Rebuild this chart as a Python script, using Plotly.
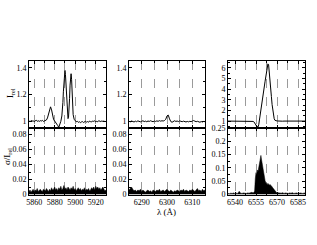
import plotly.graph_objects as go

# ---------------- data ----------------
# Panel 1: Na D region
w1 = [5855, 5856, 5857, 5858, 5859, 5860, 5861, 5862, 5863, 5864,
      5865, 5866, 5867, 5868, 5869, 5870, 5871, 5872, 5873, 5874,
      5875, 5876, 5877, 5878, 5879, 5880, 5881, 5882, 5883, 5884,
      5885, 5886, 5887,
      5887.5, 5888, 5888.5, 5889, 5889.5, 5890, 5890.5, 5891, 5891.5, 5892,
      5892.5, 5893, 5893.5, 5894, 5894.5, 5895, 5895.5, 5896, 5896.5, 5897,
      5897.5, 5898,
      5899, 5900, 5901, 5902, 5903, 5904, 5905, 5906, 5907, 5908,
      5909, 5910, 5911, 5912, 5913, 5914, 5915, 5916, 5917, 5918,
      5919, 5920, 5921, 5922, 5923, 5924, 5925, 5926, 5927, 5928,
      5929, 5930]
irel1 = [1.002, 0.998, 1.006, 1.001, 1.004, 0.997, 1.003, 1.008, 1.000, 1.004,
         0.999, 1.005, 1.002, 1.007, 0.999, 1.003, 1.002, 1.010, 1.025, 1.055,
         1.090, 1.108, 1.085, 1.040, 1.012, 1.002, 0.993, 0.985, 0.968, 0.955,
         0.975, 1.000, 1.040,
         1.080, 1.140, 1.220, 1.300, 1.360, 1.380, 1.350, 1.270, 1.170, 1.090,
         1.040, 1.020, 1.030, 1.080, 1.170, 1.270, 1.340, 1.355, 1.310, 1.220,
         1.120, 1.050,
         1.015, 1.003, 0.996, 1.000, 0.992, 0.997, 0.990, 0.995, 0.998, 0.991,
         0.996, 1.000, 0.994, 0.998, 0.993, 1.002, 0.997, 0.995, 1.003, 0.999,
         1.004, 0.996, 1.000, 0.997, 1.004, 1.001, 0.998, 1.003, 0.999, 1.002,
         0.997, 1.000]
ws1 = [5855, 5856, 5857, 5858, 5859, 5860, 5861, 5862, 5863, 5864,
       5865, 5866, 5867, 5868, 5869, 5870, 5871, 5872, 5873, 5874,
       5875, 5876, 5877, 5878, 5879, 5880, 5881, 5882, 5883, 5884,
       5885, 5886, 5887, 5888, 5889, 5890, 5891, 5892, 5893, 5894,
       5895, 5896, 5897, 5898, 5899, 5900, 5901, 5902, 5903, 5904,
       5905, 5906, 5907, 5908, 5909, 5910, 5911, 5912, 5913, 5914,
       5915, 5916, 5917, 5918, 5919, 5920, 5921, 5922, 5923, 5924,
       5925, 5926, 5927, 5928, 5929, 5930]
sig1 = [0.004, 0.006, 0.003, 0.005, 0.007, 0.004, 0.006, 0.005, 0.008, 0.004,
        0.006, 0.007, 0.005, 0.004, 0.007, 0.006, 0.005, 0.008, 0.006, 0.004,
        0.007, 0.005, 0.009, 0.006, 0.007, 0.010, 0.006, 0.008, 0.005, 0.009,
        0.007, 0.011, 0.006, 0.008, 0.012, 0.007, 0.009, 0.006, 0.010, 0.008,
        0.006, 0.009, 0.007, 0.011, 0.006, 0.008, 0.005, 0.007, 0.009, 0.006,
        0.008, 0.005, 0.007, 0.006, 0.009, 0.005, 0.007, 0.006, 0.008, 0.005,
        0.006, 0.009, 0.007, 0.010, 0.006, 0.011, 0.008, 0.010, 0.007, 0.009,
        0.006, 0.008, 0.010, 0.007, 0.005, 0.006]

# Panel 2: [O I] 6300 region
w2 = [6285.0, 6285.5, 6286.0, 6286.5, 6287.0, 6287.5, 6288.0, 6288.5, 6289.0, 6289.5,
      6290.0, 6290.5, 6291.0, 6291.5, 6292.0, 6292.5, 6293.0, 6293.5, 6294.0, 6294.5,
      6295.0, 6295.5, 6296.0, 6296.5, 6297.0, 6297.5, 6298.0, 6298.5, 6299.0, 6299.5,
      6300.0, 6300.5, 6301.0, 6301.5, 6302.0, 6302.5, 6303.0, 6303.5, 6304.0, 6304.5,
      6305.0, 6305.5, 6306.0, 6306.5, 6307.0, 6307.5, 6308.0, 6308.5, 6309.0, 6309.5,
      6310.0, 6310.5, 6311.0, 6311.5, 6312.0, 6312.5, 6313.0, 6313.5, 6314.0, 6314.5,
      6315.0]
irel2 = [1.000, 0.996, 1.002, 0.998, 0.995, 1.001, 0.997, 1.003, 0.999, 0.996,
         1.000, 1.004, 0.998, 1.001, 0.997, 1.002, 0.999, 1.004, 1.000, 0.997,
         1.002, 0.999, 1.003, 1.000, 1.005, 1.001, 1.004, 1.002, 1.006, 1.015,
         1.040, 1.046, 1.018, 0.998, 0.993, 1.000, 1.004, 0.999, 1.002, 0.998,
         1.003, 1.000, 0.997, 1.001, 0.998, 0.995, 0.999, 0.996, 1.000, 0.997,
         1.002, 1.006, 1.001, 0.997, 1.000, 0.996, 0.993, 0.998, 0.995, 0.999,
         0.997]
sig2 = [0.006, 0.008, 0.010, 0.007, 0.005, 0.006, 0.004, 0.006, 0.005, 0.007,
        0.004, 0.006, 0.005, 0.003, 0.005, 0.006, 0.004, 0.005, 0.003, 0.006,
        0.005, 0.004, 0.006, 0.005, 0.007, 0.004, 0.005, 0.006, 0.004, 0.005,
        0.007, 0.005, 0.004, 0.006, 0.005, 0.003, 0.005, 0.004, 0.006, 0.005,
        0.004, 0.006, 0.005, 0.007, 0.004, 0.006, 0.005, 0.004, 0.006, 0.005,
        0.007, 0.005, 0.004, 0.006, 0.008, 0.005, 0.006, 0.004, 0.007, 0.005,
        0.006]

# Panel 3: H-alpha region
w3 = [6535, 6536, 6537, 6538, 6539, 6540, 6541, 6542, 6543, 6544,
      6545, 6546, 6547, 6548, 6549, 6550, 6551, 6552, 6553,
      6553.5, 6554, 6554.5, 6555, 6555.5, 6556, 6556.5, 6557, 6557.5, 6558,
      6558.5, 6559, 6559.5, 6560, 6560.5, 6561, 6561.5, 6562, 6562.5, 6563,
      6563.5, 6564, 6564.5, 6565, 6565.5, 6566, 6566.5, 6567, 6567.5, 6568,
      6568.5, 6569, 6569.5, 6570, 6570.5, 6571,
      6572, 6573, 6574, 6575, 6576, 6577, 6578, 6579, 6580, 6581,
      6582, 6583, 6584, 6585, 6586, 6587, 6588, 6589, 6590]
irel3 = [1.00, 1.00, 1.01, 1.00, 1.00, 1.00, 1.01, 1.00, 1.00, 1.00,
         1.00, 1.01, 1.00, 1.00, 0.99, 1.00, 1.00, 0.99, 0.97,
         0.93, 0.86, 0.76, 0.62, 0.50, 0.43, 0.45, 0.70, 1.10, 1.60,
         2.10, 2.55, 3.00, 3.40, 3.85, 4.30, 4.75, 5.20, 5.65, 6.05,
         6.38, 6.30, 5.70, 4.90, 4.10, 3.30, 2.55, 1.95, 1.50, 1.22,
         1.08, 1.03, 1.02, 1.01, 1.01, 1.00,
         1.00, 1.00, 0.99, 1.00, 1.00, 1.00, 1.00, 0.99, 1.00, 1.00,
         1.00, 1.00, 1.00, 0.99, 1.00, 1.00, 1.00, 1.00, 1.00]
sig3 = [0.004, 0.003, 0.005, 0.004, 0.006, 0.003, 0.005, 0.004, 0.012, 0.005,
        0.004, 0.006, 0.005, 0.004, 0.006, 0.005, 0.007, 0.008, 0.006,
        0.009, 0.012, 0.060, 0.082, 0.075, 0.092, 0.088, 0.105, 0.118, 0.132,
        0.147, 0.130, 0.112, 0.095, 0.078, 0.062, 0.052, 0.045, 0.040, 0.037,
        0.042, 0.039, 0.035, 0.038, 0.033, 0.034, 0.029, 0.025, 0.021, 0.017,
        0.013, 0.010, 0.008, 0.007, 0.006, 0.007,
        0.006, 0.005, 0.007, 0.004, 0.006, 0.005, 0.004, 0.006, 0.005, 0.007,
        0.004, 0.005, 0.006, 0.004, 0.005, 0.006, 0.004, 0.005, 0.006]

ytitle_top = "I<sub>rel</sub>"
ytitle_bot = "σ/I<sub>rel</sub>"
xtitle = "λ (Å)"

# ---------------- layout ----------------
W, H = 317, 245
FONT = "Liberation Serif"

def fx(a, b):
    return [a / W, b / W]

def fy(top, bot):
    return [1 - bot / H, 1 - top / H]

def px(x):
    return x / W

def py(y):
    return 1 - y / H

xdoms = [fx(29, 106), fx(129, 205), fx(228, 305)]
ytop = fy(61, 128)
ybot = fy(128, 194.5)

panels = [
    dict(w=w1, i=irel1, ws=ws1, s=sig1, xr=[5855, 5930], t0=5860, dt=20, mdt=10,
         yr=[0.95, 1.45], ydt=0.2, ymdt=0.1, sr=[0, 0.0887], sdt=0.02, smdt=0.01),
    dict(w=w2, i=irel2, ws=w2, s=sig2, xr=[6285, 6315], t0=6290, dt=10, mdt=5,
         yr=[0.95, 1.45], ydt=0.2, ymdt=0.1, sr=[0, 0.0887], sdt=0.02, smdt=0.01),
    dict(w=w3, i=irel3, ws=w3, s=sig3, xr=[6535, 6590], t0=6540, dt=15, mdt=7.5,
         yr=[0.35, 6.65], ydt=1, ymdt=0.5, sr=[0, 0.25], sdt=0.05, smdt=0.025),
]

fig = go.Figure()
tickfont = dict(family=FONT, size=8, color="black")
base = dict(showline=True, linecolor="black", linewidth=1, mirror="ticks",
            ticks="inside", ticklen=3, tickwidth=1, tickcolor="black",
            zeroline=False, tickfont=tickfont, automargin=False, fixedrange=True)

layout = {}
for k, p in enumerate(panels):
    nt = 2 * k + 1
    nb = 2 * k + 2
    fig.add_trace(go.Scatter(x=p["w"], y=p["i"], mode="lines",
                             line=dict(color="black", width=1),
                             xaxis=f"x{nt}", yaxis=f"y{nt}", showlegend=False,
                             hoverinfo="skip"))
    fig.add_trace(go.Scatter(x=p["ws"], y=p["s"], mode="lines", fill="tozeroy",
                             fillcolor="black", line=dict(color="black", width=0.5),
                             xaxis=f"x{nb}", yaxis=f"y{nb}", showlegend=False,
                             hoverinfo="skip"))
    for n, yd, showlab in ((nt, ytop, False), (nb, ybot, True)):
        xa = dict(base, domain=xdoms[k], anchor=f"y{n}", range=p["xr"],
                  tick0=p["t0"], dtick=p["dt"], showticklabels=showlab,
                  showgrid=True, gridcolor="#9a9a9a", griddash="dash", gridwidth=1,
                  minor=dict(dtick=p["mdt"], tick0=p["t0"], showgrid=True,
                             gridcolor="#9a9a9a", griddash="dash", gridwidth=1,
                             ticks="inside", ticklen=2, tickcolor="black"))
        layout["xaxis" if n == 1 else f"xaxis{n}"] = xa
    layout["yaxis" if nt == 1 else f"yaxis{nt}"] = dict(
        base, domain=ytop, anchor=f"x{nt}", range=p["yr"], tick0=1, dtick=p["ydt"],
        showgrid=False, minor=dict(dtick=p["ymdt"], tick0=1, ticks="inside",
                                   ticklen=2, tickcolor="black"))
    layout[f"yaxis{nb}"] = dict(
        base, domain=ybot, anchor=f"x{nb}", range=p["sr"], tick0=0, dtick=p["sdt"],
        showgrid=False, minor=dict(dtick=p["smdt"], tick0=0, ticks="inside",
                                   ticklen=2, tickcolor="black"))

shapes = []
for d in xdoms:
    shapes.append(dict(type="line", xref="paper", yref="paper",
                       x0=d[0], x1=d[1], y0=ytop[0], y1=ytop[0],
                       line=dict(color="black", width=2)))

annotations = [
    dict(text=ytitle_top, x=px(10), y=py(93), xref="paper", yref="paper",
         xanchor="center", yanchor="middle",
         showarrow=False, textangle=-90, font=dict(family=FONT, size=9, color="black")),
    dict(text=ytitle_bot, x=px(7), y=py(157), xref="paper", yref="paper",
         xanchor="center", yanchor="middle",
         showarrow=False, textangle=-90, font=dict(family=FONT, size=9, color="black")),
    dict(text=xtitle, x=px(166), y=py(212), xref="paper", yref="paper",
         xanchor="center", yanchor="middle",
         showarrow=False, font=dict(family=FONT, size=9, color="black")),
]

fig.update_layout(width=W, height=H, margin=dict(l=0, r=0, t=0, b=0),
                  paper_bgcolor="white", plot_bgcolor="white", hovermode=False,
                  shapes=shapes, annotations=annotations, **layout)

fig.write_html("out.html", config={"displayModeBar": False, "staticPlot": True},
               post_script="document.body.style.margin='0';document.body.style.padding='0';")
